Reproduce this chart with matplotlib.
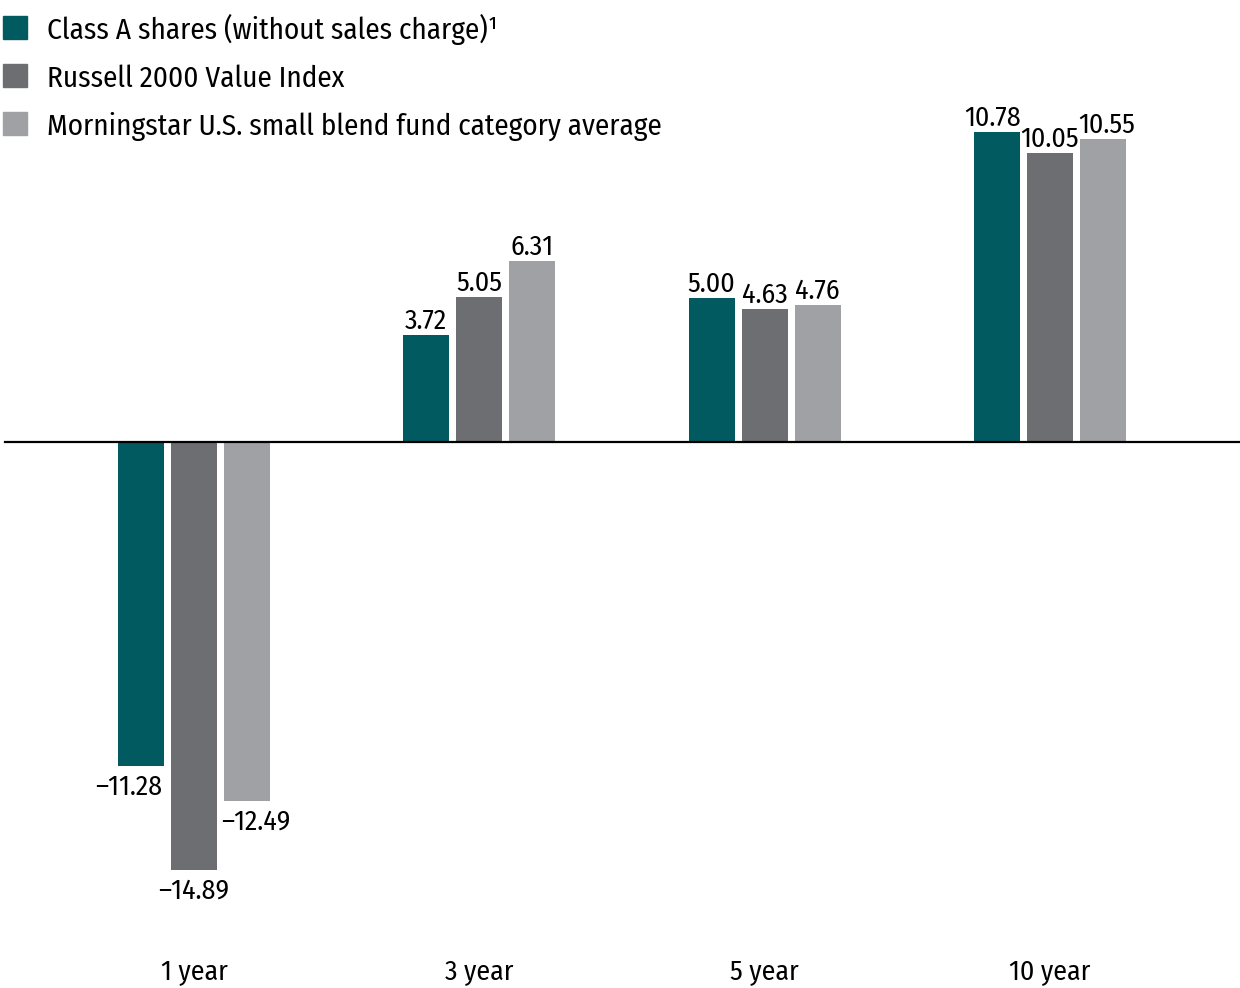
import matplotlib
matplotlib.use("Agg")
import matplotlib.pyplot as plt
from matplotlib.patches import Rectangle
from matplotlib import font_manager as fm
import numpy as np

# Data
periods = ["1 year", "3 year", "5 year", "10 year"]
series_names = ["Class A shares (without sales charge)\u00b9",
                "Russell 2000 Value Index",
                "Morningstar U.S. small blend fund category average"]
class_a = [-11.28, 3.72, 5.00, 10.78]
russell = [-14.89, 5.05, 4.63, 10.05]
morningstar = [-12.49, 6.31, 4.76, 10.55]
colors = ["#005a60", "#6d6e71", "#a0a1a4"]

values = [class_a, russell, morningstar]


def condensed_font():
    # prefer a condensed humanist face (close to Frutiger Condensed)
    for fam in ["Fira Sans Condensed", "PT Sans Narrow", "Roboto Condensed"]:
        for f in fm.fontManager.ttflist:
            if f.name == fam and f.style == 'normal' and f.weight == 400:
                return f.fname
    return None


fpath = condensed_font()


def fp(size):
    if fpath:
        return fm.FontProperties(fname=fpath, size=size)
    return fm.FontProperties(family='DejaVu Sans', stretch='condensed', size=size)


W, H = 1240, 988
fig = plt.figure(figsize=(W / 100, H / 100), dpi=100)
ax = fig.add_axes([0, 0, 1, 1])

px_per_x = 285.33   # pixels per group
px_per_y = 28.72    # pixels per percent
x0_px, y0_px = 194, 442
ax.set_xlim(-x0_px / px_per_x, (W - x0_px) / px_per_x)
ax.set_ylim(-(H - y0_px) / px_per_y, y0_px / px_per_y)
ax.axis('off')

bar_w = 46 / px_per_x
step = 53 / px_per_x
x = np.arange(len(periods))

# small horizontal nudges (points) for labels so they don't collide
nudges = [[-9, 0, 6], [0, 0, 0], [0, 0, 0], [-3, 0, 3]]

for i, (vals, col) in enumerate(zip(values, colors)):
    xs = x + (i - 1) * step
    ax.bar(xs, vals, width=bar_w, color=col, zorder=2)
    for j, (xi, v) in enumerate(zip(xs, vals)):
        txt = f"{v:.2f}".replace("-", "\u2013")
        if v >= 0:
            ax.annotate(txt, (xi, v), xytext=(nudges[j][i], 4.5),
                        textcoords='offset points', ha='center', va='baseline',
                        fontproperties=fp(20), color='black')
        else:
            ax.annotate(txt, (xi, v), xytext=(nudges[j][i], -21),
                        textcoords='offset points', ha='center', va='baseline',
                        fontproperties=fp(20), color='black')

# zero line
ax.axhline(0, xmin=5 / W, xmax=1, color='black', linewidth=1.6, zorder=3)

# category labels
for xi, lab in zip(x, periods):
    ax.text(xi, -(979 - y0_px) / px_per_y, lab, ha='center', va='baseline',
            fontproperties=fp(20), color='black')

# legend
for k, (name, col) in enumerate(zip(series_names, colors)):
    yc = 28 + 48 * k
    fig.patches.append(Rectangle((3 / W, 1 - (yc + 11.5) / H), 24 / W, 23 / H,
                                 transform=fig.transFigure, color=col))
    fig.text(47 / W, 1 - (yc + 11) / H, name, ha='left', va='baseline',
             fontproperties=fp(21), color='black')

fig.savefig("out.png", dpi=100)
